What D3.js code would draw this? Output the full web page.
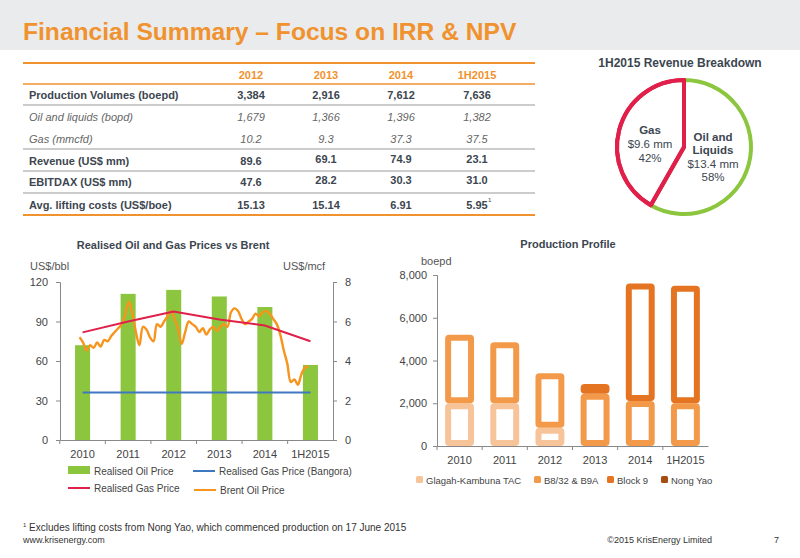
<!DOCTYPE html><html><head><meta charset="utf-8"><script src="https://cdn.jsdelivr.net/npm/d3@7"></script>
<style>body{margin:0;background:#fff}svg{font-family:"Liberation Sans",Arial,sans-serif}</style></head><body><svg id="c" width="800" height="558"></svg>
<script>
const tableCols=["2012","2013","2014","1H2015"];
const tableRows=[
 {label:"Production Volumes (boepd)",vals:["3,384","2,916","7,612","7,636"],style:"bold"},
 {label:"Oil and liquids (bopd)",vals:["1,679","1,366","1,396","1,382"],style:"italic"},
 {label:"Gas (mmcfd)",vals:["10.2","9.3","37.3","37.5"],style:"italic"},
 {label:"Revenue (US$ mm)",vals:["89.6","69.1","74.9","23.1"],style:"bold"},
 {label:"EBITDAX (US$ mm)",vals:["47.6","28.2","30.3","31.0"],style:"bold"},
 {label:"Avg. lifting costs (US$/boe)",vals:["15.13","15.14","6.91","5.95"],style:"bold"}];
const pieLabels=["Oil and Liquids","Gas"];
const pieValues=[13.4,9.6];
const pricesYears=["2010","2011","2012","2013","2014","1H2015"];
const realisedOil=[72,111,114,109,101,57];
const realisedGas=[5.45,6.0,6.5,6.1,5.8,5.0];
const bangoraGas=[2.4,2.4,2.4,2.4,2.4,2.4];
const brent=[78,74,68,72,70,74,71,76,75,79,82,85,
 88,96,105,96,82,72,86,84,78,75,88,86,
 90,94,98,92,84,73,82,90,88,86,82,85,
 80,84,86,83,86,88,86,97,100,98,92,88,
 90,92,96,94,97,98,96,92,88,80,68,58,
 44,46,42,50,55,56];
const prodYears=["2010","2011","2012","2013","2014","1H2015"];
const prodSeries=["Glagah-Kambuna TAC","B8/32 & B9A","Block 9","Nong Yao"];
const glagah=[2000,2000,850,0,0,0];
const b832=[3200,2850,2550,2450,2100,2000];
const block9=[0,0,0,450,5500,5500];
const nongYao=[0,0,0,0,0,136];
const prodColors=["#f7c49a","#f39a4a","#e57422","#a84d12"];

const svg=d3.select("#c");
const OR="#f0922e",TX="#3c4650";
svg.append("rect").attr("width",800).attr("height",50).attr("fill","#eaebec");
svg.append("text").attr("x",23).attr("y",40).attr("font-size",24.6).attr("font-weight","bold").attr("fill",OR).text("Financial Summary – Focus on IRR & NPV");
const colX=[251,326,401,477];
svg.append("line").attr("x1",23).attr("x2",535).attr("y1",63).attr("y2",63).attr("stroke",OR).attr("stroke-width",2);
tableCols.forEach((c,i)=>svg.append("text").attr("x",colX[i]).attr("y",79).attr("text-anchor","middle").attr("font-size",11).attr("font-weight","bold").attr("fill",OR).text(c));
svg.append("line").attr("x1",23).attr("x2",535).attr("y1",84).attr("y2",84).attr("stroke",OR).attr("stroke-width",1.5);
const rowY=[99,121,143,165,186,209];
tableRows.forEach((r,j)=>{
 const it=r.style==="italic";
 svg.append("text").attr("x",29).attr("y",rowY[j]).attr("font-size",11).attr("font-weight",it?"normal":"bold").attr("font-style",it?"italic":"normal").attr("fill",it?"#666":TX).text(r.label);
 r.vals.forEach((v,i)=>svg.append("text").attr("x",colX[i]).attr("y",rowY[j]+(j>=3&&i>=1&&j<5?-2:0)).attr("text-anchor","middle").attr("font-size",11).attr("font-weight",it?"normal":"bold").attr("font-style",it?"italic":"normal").attr("fill",it?"#666":TX).text(v));
});
svg.append("text").attr("x",488).attr("y",202).attr("font-size",6).attr("fill",TX).text("1");
[105,149,171,193].forEach(y=>svg.append("line").attr("x1",23).attr("x2",535).attr("y1",y).attr("y2",y).attr("stroke","#999").attr("stroke-width",1));
svg.append("line").attr("x1",23).attr("x2",535).attr("y1",215).attr("y2",215).attr("stroke",OR).attr("stroke-width",2);
svg.append("text").attr("x",680).attr("y",67).attr("text-anchor","middle").attr("font-size",12).attr("font-weight","bold").attr("fill",TX).text("1H2015 Revenue Breakdown");
const pg=svg.append("g").attr("transform","translate(684,147)");
const arcs=d3.pie().sort(null)(pieValues);
const arc=d3.arc().innerRadius(0).outerRadius(67);
pg.selectAll("path").data(arcs).join("path").attr("d",arc).attr("fill","#fff").attr("stroke",(d,i)=>i?"#e0204a":"#8cc63f").attr("stroke-width",4).attr("stroke-linejoin","round");
pg.append("path").attr("d",arc(arcs[1])).attr("fill","none").attr("stroke","#e0204a").attr("stroke-width",4).attr("stroke-linejoin","round");
const tl=(t,x,y,b)=>pg.append("text").attr("x",x).attr("y",y).attr("text-anchor","middle").attr("font-size",11.5).attr("font-weight",b?"bold":"normal").attr("fill",TX).text(t);
tl("Gas",-34,-13,1);tl("$9.6 mm",-34,1);tl("42%",-34,15);
tl("Oil and",29,-6,1);tl("Liquids",29,7,1);tl("$13.4 mm",29,21);tl("58%",29,34);
const L={l:60,r:333,t:282,b:440};
const x=d3.scaleBand().domain(pricesYears).range([L.l,L.r]).paddingInner(0.67).paddingOuter(0.33);
const yL=d3.scaleLinear().domain([0,120]).range([L.b,L.t]);
const yR=d3.scaleLinear().domain([0,8]).range([L.b,L.t]);
svg.append("text").attr("x",173).attr("y",249).attr("text-anchor","middle").attr("font-size",11).attr("font-weight","bold").attr("fill",TX).text("Realised Oil and Gas Prices vs Brent");
svg.append("text").attr("x",30).attr("y",270).attr("font-size",11).attr("fill","#555").text("US$/bbl");
svg.append("text").attr("x",283).attr("y",270).attr("font-size",11).attr("fill","#555").text("US$/mcf");
svg.selectAll(".ob").data(realisedOil).join("rect").attr("x",(d,i)=>x(pricesYears[i])).attr("width",x.bandwidth()).attr("y",d=>yL(d)).attr("height",d=>L.b-yL(d)).attr("fill","#8cc63f");
const ax=(g)=>{g.selectAll("text").attr("fill","#444").attr("font-size",11);g.selectAll("path,line").attr("stroke","#888");};
svg.append("g").attr("transform",`translate(${L.l},0)`).call(d3.axisLeft(yL).tickValues([0,30,60,90,120]).tickSize(4).tickPadding(8)).call(ax);
svg.append("g").attr("transform",`translate(${L.r},0)`).call(d3.axisRight(yR).tickValues([0,2,4,6,8]).tickSize(4).tickPadding(8)).call(ax);
svg.append("g").attr("transform",`translate(0,${L.b})`).call(d3.axisBottom(x).tickSize(4).tickSizeOuter(0).tickPadding(6)).call(ax).selectAll(".tick line").attr("transform",`translate(${-x.step()/2},0)`);
const cx=i=>x(pricesYears[i])+x.bandwidth()/2;
const tx=d3.scaleLinear().domain([0,brent.length-1]).range([cx(0)-3,cx(5)-2]);
svg.append("path").attr("d",d3.line().x((d,i)=>tx(i)).y(d=>yL(d)).curve(d3.curveCatmullRom)(brent)).attr("fill","none").attr("stroke","#f7941d").attr("stroke-width",2.4);
svg.append("path").attr("d",d3.line().x((d,i)=>cx(i)).y(d=>yR(d))(realisedGas)).attr("fill","none").attr("stroke","#e0204a").attr("stroke-width",2);
svg.append("path").attr("d",d3.line().x((d,i)=>cx(i)).y(d=>yR(d))(bangoraGas)).attr("fill","none").attr("stroke","#3f78c0").attr("stroke-width",2);
const lg=(t,x0,y0,kind,col)=>{ if(kind==="bar")svg.append("rect").attr("x",x0).attr("y",y0-9).attr("width",22).attr("height",8).attr("fill",col); else svg.append("line").attr("x1",x0).attr("x2",x0+22).attr("y1",y0-4).attr("y2",y0-4).attr("stroke",col).attr("stroke-width",2);
 svg.append("text").attr("x",x0+26).attr("y",y0).attr("font-size",10).attr("fill","#444").text(t);};
lg("Realised Oil Price",68,475,"bar","#8cc63f");lg("Realised Gas Price (Bangora)",193,475,"line","#3f78c0");
lg("Realised Gas Price",68,492,"line","#e0204a");lg("Brent Oil Price",194,494,"line","#f7941d");
const P={l:437,r:708,t:275,b:446};
const px=d3.scaleBand().domain(prodYears).range([P.l,P.r]).paddingInner(0.36).paddingOuter(0.18);
const py=d3.scaleLinear().domain([0,8000]).range([P.b,P.t]);
svg.append("text").attr("x",568).attr("y",248).attr("text-anchor","middle").attr("font-size",11).attr("font-weight","bold").attr("fill",TX).text("Production Profile");
svg.append("text").attr("x",421).attr("y",265).attr("font-size",11).attr("fill","#555").text("boepd");
const stack=d3.stack().keys([0,1,2,3]).value((d,k)=>d[k])(prodYears.map((y,i)=>[glagah[i],b832[i],block9[i],nongYao[i]]));
const sw=6;
stack.forEach((s,k)=>s.forEach((d,i)=>{ if(d[1]-d[0]<=0)return;
 const h=py(d[0])-py(d[1]);
 svg.append("rect").attr("x",px(prodYears[i])+sw/2).attr("width",px.bandwidth()-sw).attr("y",py(d[1])+Math.min(sw/2,h/2)).attr("height",Math.max(0,h-sw)).attr("fill",h<sw*2?prodColors[k]:"none").attr("stroke",prodColors[k]).attr("stroke-width",Math.min(sw,h)).attr("rx",1);
}));
svg.append("g").attr("transform",`translate(${P.l},0)`).call(d3.axisLeft(py).tickValues([0,2000,4000,6000,8000]).tickFormat(d3.format(",")).tickSize(4).tickPadding(6)).call(ax);
svg.append("g").attr("transform",`translate(0,${P.b})`).call(d3.axisBottom(px).tickSize(4).tickSizeOuter(0).tickPadding(6)).call(ax).selectAll(".tick line").attr("transform",`translate(${-px.step()/2},0)`);
const lx=[416,534,607,661];
prodSeries.forEach((s,k)=>{svg.append("rect").attr("x",lx[k]).attr("y",476).attr("width",7).attr("height",7).attr("fill",prodColors[k]).attr("rx",1.5);
 svg.append("text").attr("x",lx[k]+10).attr("y",484).attr("font-size",9.5).attr("fill","#444").text(s);});
svg.append("text").attr("x",23).attr("y",531).attr("font-size",10).attr("fill","#333").html('<tspan font-size="6" dy="-4">1</tspan><tspan dy="4"> Excludes lifting costs from Nong Yao, which commenced production on 17 June 2015</tspan>');
svg.append("text").attr("x",23).attr("y",543).attr("font-size",9).attr("fill","#333").text("www.krisenergy.com");
svg.append("text").attr("x",712).attr("y",543).attr("text-anchor","end").attr("font-size",9).attr("fill","#333").text("©2015 KrisEnergy Limited");
svg.append("text").attr("x",774).attr("y",543).attr("font-size",9).attr("fill","#333").text("7");
</script></body></html>
